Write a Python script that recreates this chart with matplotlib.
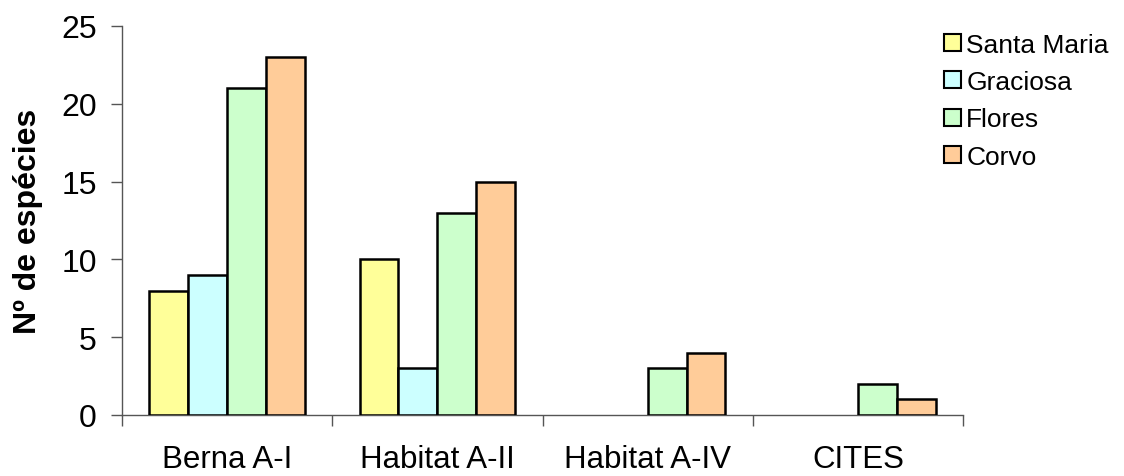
import matplotlib
matplotlib.use("Agg")
import matplotlib.pyplot as plt
import numpy as np

plt.rcParams['font.family'] = ['Liberation Sans', 'DejaVu Sans']

categories = ["Berna A-I", "Habitat A-II", "Habitat A-IV", "CITES"]
series_names = ["Santa Maria", "Graciosa", "Flores", "Corvo"]
santa_maria = [8, 10, 0, 0]
graciosa = [9, 3, 0, 0]
flores = [21, 13, 3, 2]
corvo = [23, 15, 4, 1]
series_values = [santa_maria, graciosa, flores, corvo]
colors = ["#FFFF99", "#CCFFFF", "#CCFFCC", "#FFCC99"]
y_ticks = [0, 5, 10, 15, 20, 25]

fig = plt.figure(figsize=(11.24, 4.77), dpi=100)
W, H = 1124, 477
ax = fig.add_axes([122 / W, (H - 416) / H, (963 - 122) / W, (416 - 27) / H])

n = len(series_names)
bar_w = 0.74 / n
x = np.arange(len(categories))
handles = []
for i, (name, vals, c) in enumerate(zip(series_names, series_values, colors)):
    offs = (i - (n - 1) / 2) * bar_w
    heights = np.array(vals, dtype=float)
    mask = heights > 0
    b = ax.bar(x[mask] + offs, heights[mask], width=bar_w, color=c,
               edgecolor="black", linewidth=1.8, label=name, zorder=3)
    handles.append(b)

ax.set_xlim(-0.5, len(categories) - 0.5)
ax.set_ylim(0, 25)
ax.set_yticks(y_ticks)
ax.set_yticklabels([str(t) for t in y_ticks], fontsize=23)
ax.set_xticks(np.arange(len(categories) + 1) - 0.5)
ax.set_xticklabels([])
ax.set_xticks(x, minor=True)
ax.set_xticklabels(categories, minor=True, fontsize=22.5)
ax.tick_params(axis="x", which="minor", length=0, pad=21)
ax.tick_params(axis="x", which="major", direction="out", length=8, width=1, color="#555555")
ax.tick_params(axis="y", direction="out", length=8, width=1, color="#555555", pad=10)

for side in ["top", "right"]:
    ax.spines[side].set_visible(False)
for side in ["left", "bottom"]:
    ax.spines[side].set_color("#555555")
    ax.spines[side].set_linewidth(1)

ax.set_ylabel("Nº de espécies", fontsize=23, fontweight="bold", labelpad=13)

leg = fig.legend(handles=handles, labels=series_names, loc="upper left",
                 bbox_to_anchor=(944 / W, 1 - 34 / H), frameon=False,
                 fontsize=19, handlelength=0.64, handleheight=0.62,
                 handletextpad=0.2, labelspacing=0.5, borderaxespad=0,
                 borderpad=0)
for h in leg.legend_handles:
    h.set_linewidth(1.5)

fig.savefig("out.png", dpi=100)
